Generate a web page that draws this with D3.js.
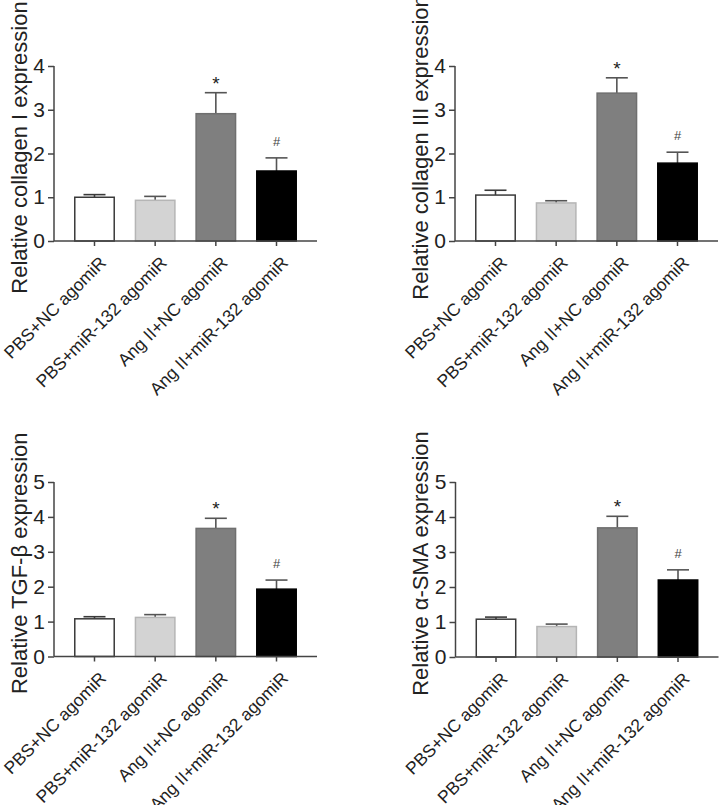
<!DOCTYPE html>
<html>
<head>
<meta charset="utf-8">
<script src="https://cdn.jsdelivr.net/npm/d3@7"></script>
<style>
  html, body { margin: 0; padding: 0; background: #fff; }
  svg { display: block; }
  text { font-family: "Liberation Sans", Arial, sans-serif; }
</style>
</head>
<body>
<svg id="chart" width="720" height="805"></svg>
<script>
// ---- data ----
const categories = ["PBS+NC agomiR", "PBS+miR-132 agomiR", "Ang II+NC agomiR", "Ang II+miR-132 agomiR"];
const titles = ["Relative collagen I expression", "Relative collagen III expression", "Relative TGF-β expression", "Relative α-SMA expression"];
const collagenI = [1.00, 0.93, 2.91, 1.60];
const collagenIErr = [0.06, 0.09, 0.48, 0.30];
const collagenIII = [1.05, 0.87, 3.38, 1.78];
const collagenIIIErr = [0.11, 0.05, 0.35, 0.25];
const tgfb = [1.08, 1.12, 3.67, 1.93];
const tgfbErr = [0.06, 0.08, 0.29, 0.26];
const asma = [1.08, 0.87, 3.69, 2.20];
const asmaErr = [0.06, 0.07, 0.33, 0.29];
const yMaxes = [4, 4, 5, 5];
const marks = ["", "", "*", "#"];

const fills = ["#ffffff", "#d3d3d3", "#7f7f7f", "#000000"];
const strokes = ["#3a3a3a", "#b5b5b5", "#6f6f6f", "#000000"];
const errColors = ["#3a3a3a", "#555555", "#555555", "#555555"];

const panels = [
  { title: titles[0], values: collagenI, errs: collagenIErr, yMax: yMaxes[0], x0: 54, y0: 241, y1: 66, titleX: 27 },
  { title: titles[1], values: collagenIII, errs: collagenIIIErr, yMax: yMaxes[1], x0: 455, y0: 241, y1: 66, titleX: 428 },
  { title: titles[2], values: tgfb, errs: tgfbErr, yMax: yMaxes[2], x0: 54, y0: 656.5, y1: 482, titleX: 27 },
  { title: titles[3], values: asma, errs: asmaErr, yMax: yMaxes[3], x0: 455.5, y0: 657, y1: 482, titleX: 428 }
];

const svg = d3.select("#chart");
svg.append("rect").attr("width", 720).attr("height", 805).attr("fill", "#fff");

const axisColor = "#444";

panels.forEach(p => {
  const g = svg.append("g");
  const x = d3.scaleBand().domain(categories).range([p.x0, p.x0 + 263])
    .paddingInner(0.325).paddingOuter(0.33);
  const y = d3.scaleLinear().domain([0, p.yMax]).range([p.y0, p.y1]);

  const data = categories.map((c, i) => ({ c, v: p.values[i], e: p.errs[i], i }));
  // error bars (upper only)
  data.forEach(d => {
    const cx = x(d.c) + x.bandwidth() / 2;
    g.append("line").attr("x1", cx).attr("x2", cx)
      .attr("y1", y(d.v)).attr("y2", y(d.v + d.e))
      .attr("stroke", errColors[d.i]).attr("stroke-width", 1.6);
    g.append("line").attr("x1", cx - 11).attr("x2", cx + 11)
      .attr("y1", y(d.v + d.e)).attr("y2", y(d.v + d.e))
      .attr("stroke", errColors[d.i]).attr("stroke-width", 1.6);
  });
  g.selectAll("rect.bar").data(data).join("rect")
    .attr("class", "bar")
    .attr("x", d => x(d.c) + 0.75)
    .attr("width", x.bandwidth() - 1.5)
    .attr("y", d => y(d.v))
    .attr("height", d => y(0) - y(d.v))
    .attr("fill", d => fills[d.i])
    .attr("stroke", d => strokes[d.i])
    .attr("stroke-width", 1.5);

  // significance marks
  data.forEach(d => {
    if (!marks[d.i]) return;
    const cx = x(d.c) + x.bandwidth() / 2;
    const top = y(d.v + d.e);
    if (marks[d.i] === "*") {
      g.append("text").attr("x", cx).attr("y", top - 3)
        .attr("text-anchor", "middle").attr("font-size", 19).attr("fill", "#222").text("*");
    } else {
      g.append("text").attr("x", cx).attr("y", top - 12)
        .attr("text-anchor", "middle").attr("font-size", 13).attr("fill", "#444").text("#");
    }
  });

  // y axis
  const yAxis = g.append("g").attr("transform", `translate(${p.x0},0)`)
    .call(d3.axisLeft(y).ticks(p.yMax).tickSize(6).tickPadding(3).tickFormat(d3.format("d")));
  yAxis.select(".domain").attr("stroke", axisColor).attr("stroke-width", 1.5).attr("d", `M0,${p.y0}V${p.y1}`);
  yAxis.selectAll(".tick line").attr("stroke", axisColor).attr("stroke-width", 1.5);
  yAxis.selectAll(".tick text").attr("font-size", 21).attr("fill", "#222")
    .attr("font-family", "\"Liberation Sans\", Arial, sans-serif");

  // x axis
  const xAxis = g.append("g").attr("transform", `translate(0,${p.y0})`)
    .call(d3.axisBottom(x).tickSize(5).tickFormat(""));
  xAxis.select(".domain").attr("stroke", axisColor).attr("stroke-width", 1.5).attr("d", `M${p.x0},0H${p.x0 + 263}`);
  xAxis.selectAll(".tick line").attr("stroke", axisColor).attr("stroke-width", 1.5);

  // rotated category labels
  categories.forEach(c => {
    const cx = x(c) + x.bandwidth() / 2;
    g.append("text")
      .attr("transform", `translate(${cx + 4},${p.y0 + 14}) rotate(-45)`)
      .attr("text-anchor", "end")
      .attr("dy", "0.71em")
      .attr("font-size", 17.5)
      .attr("fill", "#222")
      .text(c);
  });

  // y title
  const cy = (p.y0 + p.y1) / 2 - 6;
  g.append("text")
    .attr("transform", `translate(${p.titleX},${cy}) rotate(-90)`)
    .attr("text-anchor", "middle")
    .attr("font-size", 22)
    .attr("fill", "#222")
    .text(p.title);
});
</script>
</body>
</html>
